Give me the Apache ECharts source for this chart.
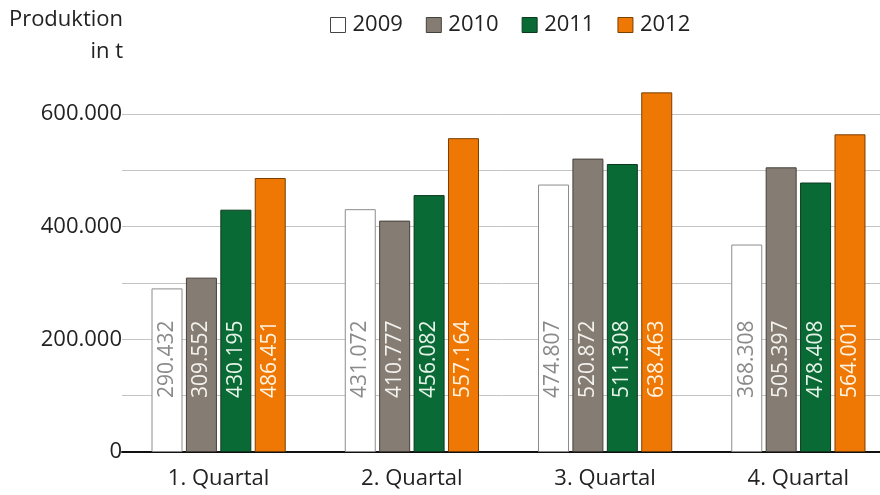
<!DOCTYPE html>
<html>
<head>
<meta charset="utf-8">
<script src="https://cdn.jsdelivr.net/npm/echarts@6/dist/echarts.min.js"></script>
<style>
  html, body { margin: 0; padding: 0; background: #fff; }
  #chart { width: 880px; height: 495px; }
</style>
</head>
<body>
<div id="chart"></div>
<script>
const quarters = ['1. Quartal', '2. Quartal', '3. Quartal', '4. Quartal']
const years = ['2009', '2010', '2011', '2012']
const values2009 = [290432, 431072, 474807, 368308]
const values2010 = [309552, 410777, 520872, 505397]
const values2011 = [430195, 456082, 511308, 478408]
const values2012 = [486451, 557164, 638463, 564001]

const FONT = '"Open Sans", sans-serif'
const fmt = (v) => String(v).replace(/\B(?=(\d{3})+(?!\d))/g, '.')

const styles = [
    { fill: '#ffffff', border: '#8c8c8c', label: '#8a8a8a' },
    { fill: '#857d73', border: '#45403a', label: '#f4f2ee' },
    { fill: '#0a6a35', border: '#0b3a1e', label: '#e6f3e8' },
    { fill: '#ef7703', border: '#7a3f00', label: '#fff3e2' }
]

const seriesData = [values2009, values2010, values2011, values2012]

const series = years.map((year, idx) => ({
    name: year,
    type: 'bar',
    data: seriesData[idx],
    barWidth: 31,
    barGap: '11%',
    itemStyle: {
        color: styles[idx].fill,
        borderColor: styles[idx].border,
        borderWidth: 1
    },
    label: {
        show: true,
        position: 'insideBottom',
        distance: 54,
        rotate: 90,
        align: 'left',
        verticalAlign: 'middle',
        formatter: (p) => fmt(p.value),
        color: styles[idx].label,
        fontFamily: FONT,
        fontSize: 21
    }
}))

const chart = echarts.init(document.getElementById('chart'))
chart.setOption({
    animation: false,
    textStyle: { fontFamily: FONT },
    graphic: [{
        type: 'text',
        x: 123,
        y: 4,
        style: {
            text: 'Produktion\nin t',
            align: 'right',
            fontFamily: FONT,
            fontSize: 22,
            lineHeight: 32,
            fill: '#222'
        }
    }],
    legend: {
        left: 325,
        top: 9,
        itemWidth: 15,
        itemHeight: 15,
        itemGap: 23,
        icon: 'rect',
        textStyle: { fontFamily: FONT, fontSize: 22, color: '#222', padding: [0, 0, 0, 2] },
        data: years.map((y, idx) => ({
            name: y,
            itemStyle: { color: styles[idx].fill, borderColor: idx === 0 ? '#444' : styles[idx].border, borderWidth: 1 }
        }))
    },
    grid: { left: 122, width: 773, top: 57.7, bottom: 43, containLabel: false, outerBoundsMode: 'none' },
    xAxis: {
        type: 'category',
        data: quarters,
        axisTick: { show: false },
        axisLine: { lineStyle: { color: '#111', width: 2 } },
        axisLabel: { color: '#222', fontFamily: FONT, fontSize: 22, margin: 16 }
    },
    yAxis: {
        type: 'value',
        min: 0,
        max: 700000,
        interval: 100000,
        axisLine: { show: false },
        axisTick: { show: false },
        axisLabel: {
            color: '#222',
            fontFamily: FONT,
            fontSize: 22,
            margin: 0,
            formatter: (v) => (v % 200000 === 0 && v <= 600000 ? fmt(v) : '')
        },
        splitLine: {
            lineStyle: {
                color: ['#c4c4c4', '#c4c4c4', '#c4c4c4', '#c4c4c4', '#c4c4c4', '#c4c4c4', '#c4c4c4', 'rgba(0,0,0,0)'],
                width: 1
            }
        }
    },
    series
})
</script>
</body>
</html>
